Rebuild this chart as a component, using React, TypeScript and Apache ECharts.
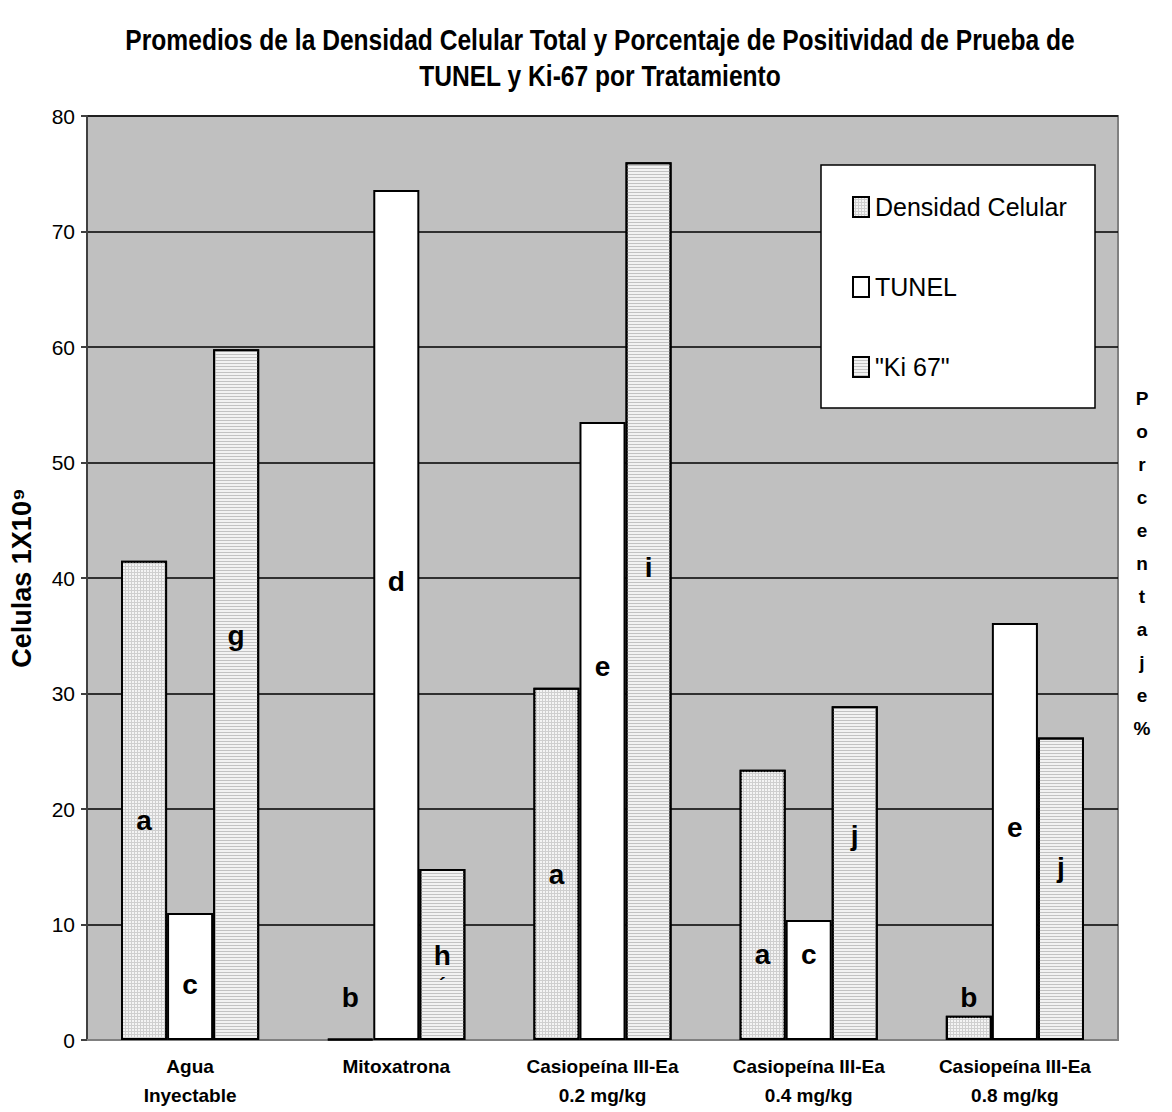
import React, { useEffect, useRef } from 'react';
import * as echarts from 'echarts';

// ---------- data ----------
const categories = [
  'Agua\nInyectable',
  'Mitoxatrona',
  'Casiopeína III-Ea\n0.2 mg/kg',
  'Casiopeína III-Ea\n0.4 mg/kg',
  'Casiopeína III-Ea\n0.8 mg/kg',
];
const seriesNames = ['Densidad Celular', 'TUNEL', '"Ki 67"'];
const densidad = [41.5, 0.1, 30.5, 23.4, 2.1];
const tunel = [11.0, 73.6, 53.5, 10.4, 36.1];
const ki67 = [59.8, 14.8, 76.0, 28.9, 26.2];

const densidadLetters = ['a', 'b', 'a', 'a', 'b'];
const densidadLetterY = [19.0, 3.7, 14.3, 7.4, 3.7];
const tunelLetters = ['c', 'd', 'e', 'c', 'e'];
const tunelLetterY = [4.8, 39.7, 32.3, 7.4, 18.4];
const ki67Letters = ['g', 'h', 'i', 'j', 'j'];
const ki67LetterY = [35.0, 7.3, 40.9, 17.7, 14.9];
const ki67Marks = ['', '´', '', '', ''];
const ki67MarkY = [0, 4.8, 0, 0, 0];

const yMin = 0;
const yMax = 80;
const yInterval = 10;

const titleText =
  'Promedios de la Densidad Celular Total y Porcentaje de Positividad de Prueba de\nTUNEL y Ki-67 por Tratamiento';
const yAxisName = 'Celulas 1X10⁹';
const rightName = 'Porcentaje%';

// ---------- styling ----------
const FONT = "'Liberation Sans', Arial, sans-serif";
const BAR_GAP_FRAC = 0.33;

export default function App() {
  const ref = useRef<HTMLDivElement>(null);

  useEffect(() => {
    document.body.style.margin = '0';
    if (!ref.current) return;
    const chart = echarts.init(ref.current, null, { renderer: 'svg' });

    const barFrac = (1 - BAR_GAP_FRAC) / 3;
    const letterData = (letters: string[], ys: number[], k: number) =>
      letters
        .map((t, i) => ({ name: t, value: [i + (k - 1) * barFrac, ys[i]] }))
        .filter((d) => d.name !== '');

    const letterSeries = (data: any[], size: number) => ({
      type: 'scatter',
      xAxisIndex: 1,
      yAxisIndex: 0,
      symbolSize: 1,
      itemStyle: { color: 'rgba(0,0,0,0)', opacity: 1 },
      silent: true,
      z: 6,
      data,
      label: {
        show: true,
        position: 'inside',
        formatter: (p: any) => p.name,
        color: '#000',
        opacity: 1,
        textBorderWidth: 0,
        fontFamily: FONT,
        fontWeight: 'bold',
        fontSize: size,
      },
    });

    const border = { borderColor: '#000', borderWidth: 2 };

    const option: any = {
      animation: false,
      backgroundColor: '#fff',
      grid: {
        left: 82,
        right: 54,
        top: 116,
        bottom: 72,
        show: true,
        backgroundColor: '#c0c0c0',
        borderColor: '#808080',
        borderWidth: 2,
      },
      legend: {
        orient: 'vertical',
        left: 852,
        top: 192,
        itemWidth: 16,
        itemHeight: 20,
        itemGap: 50,
        icon: 'rect',
        padding: 0,
        z: 10,
        data: seriesNames,
        textStyle: {
          fontFamily: FONT,
          fontSize: 25,
          color: '#000',
          lineHeight: 30,
          padding: [0, 0, 0, 1],
        },
      },
      xAxis: [
        {
          type: 'category',
          data: categories,
          axisLine: { lineStyle: { color: '#808080', width: 2 } },
          axisTick: { show: false },
          axisLabel: {
            color: '#000',
            fontFamily: FONT,
            fontWeight: 'bold',
            fontSize: 19,
            lineHeight: 29,
            margin: 12,
            interval: 0,
          },
        },
        {
          type: 'value',
          min: -0.5,
          max: 4.5,
          show: false,
        },
      ],
      yAxis: [
        {
          type: 'value',
          min: yMin,
          max: yMax,
          interval: yInterval,
          name: yAxisName,
          nameLocation: 'middle',
          nameGap: 52,
          nameTextStyle: {
            fontFamily: FONT,
            fontWeight: 'bold',
            fontSize: 27,
            color: '#000',
          },
          axisLine: { show: true, onZero: false, lineStyle: { color: '#404040', width: 2 } },
          axisTick: { show: true, length: 6, lineStyle: { color: '#404040', width: 2 } },
          axisLabel: {
            color: '#000',
            fontFamily: FONT,
            fontSize: 21,
            margin: 12,
          },
          splitLine: { show: true, lineStyle: { color: '#000', width: 1.5 } },
        },
      ],
      series: [
        {
          name: seriesNames[0],
          type: 'bar',
          data: densidad,
          barGap: '0%',
          barCategoryGap: BAR_GAP_FRAC * 100 + '%',
          itemStyle: {
            color: '#cfcfcf',
            ...border,
            decal: {
              symbol: 'rect',
              symbolSize: 1,
              color: '#f4f4f4',
              dashArrayX: [2, 1],
              dashArrayY: [2, 1],
              rotation: 0,
            },
          },
        },
        {
          name: seriesNames[1],
          type: 'bar',
          data: tunel,
          barGap: '0%',
          barCategoryGap: BAR_GAP_FRAC * 100 + '%',
          itemStyle: { color: '#ffffff', ...border },
        },
        {
          name: seriesNames[2],
          type: 'bar',
          data: ki67,
          barGap: '0%',
          barCategoryGap: BAR_GAP_FRAC * 100 + '%',
          itemStyle: {
            color: '#f2f2f2',
            ...border,
            decal: {
              symbol: 'rect',
              symbolSize: 1,
              color: '#c2c2c2',
              dashArrayX: [1, 0],
              dashArrayY: [1, 2],
              rotation: 0,
            },
          },
        },
        letterSeries(letterData(densidadLetters, densidadLetterY, 0), 28),
        letterSeries(letterData(tunelLetters, tunelLetterY, 1), 28),
        letterSeries(letterData(ki67Letters, ki67LetterY, 2), 28),
        letterSeries(letterData(ki67Marks, ki67MarkY, 2), 20),
      ],
      graphic: [
        {
          type: 'rect',
          z: 9,
          shape: { x: 821, y: 165, width: 274, height: 243 },
          style: { fill: '#fff', stroke: '#000', lineWidth: 1.5 },
        },
        {
          type: 'text',
          z: 10,
          x: 600,
          y: 22,
          scaleX: 0.82,
          style: {
            text: titleText,
            fontFamily: FONT,
            fontWeight: 'bold',
            fontSize: 30,
            lineHeight: 36,
            fill: '#000',
            textAlign: 'center',
            textVerticalAlign: 'top',
          },
        },
        {
          type: 'text',
          z: 10,
          x: 1142,
          y: 382,
          style: {
            text: rightName.split('').join('\n'),
            fontFamily: FONT,
            fontWeight: 'bold',
            fontSize: 19,
            lineHeight: 33,
            fill: '#000',
            textAlign: 'center',
            textVerticalAlign: 'top',
          },
        },
      ],
    };

    chart.setOption(option);
    return () => chart.dispose();
  }, []);

  return <div ref={ref} style={{ width: 1172, height: 1112 }} />;
}
